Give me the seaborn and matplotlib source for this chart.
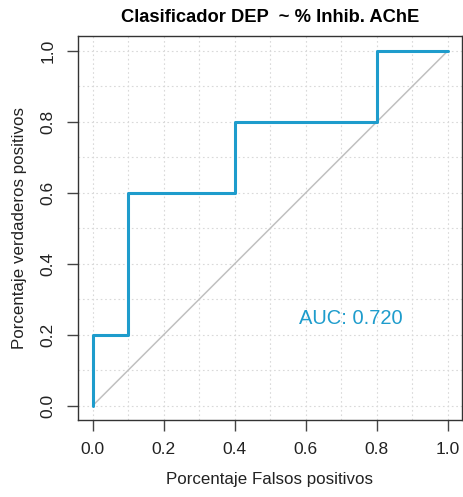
import matplotlib
matplotlib.use("Agg")
import matplotlib.pyplot as plt
import seaborn as sns
import pandas as pd
import numpy as np

fpr = [0.0, 0.0, 0.1, 0.1, 0.4, 0.4, 0.8, 0.8, 1.0]
tpr = [0.0, 0.2, 0.2, 0.6, 0.6, 0.8, 0.8, 1.0, 1.0]
auc_text = "AUC: 0.720"
title = "Clasificador DEP  ~ % Inhib. AChE"
xlabel = "Porcentaje Falsos positivos"
ylabel = "Porcentaje verdaderos positivos"
ticks = [0.0, 0.2, 0.4, 0.6, 0.8, 1.0]

sns.set_style("ticks")
plt.rcParams['font.family'] = ['Liberation Sans', 'DejaVu Sans']

fig = plt.figure(figsize=(4.63, 4.97), dpi=100)
ax = fig.add_axes([0.1685, 0.155, 0.829, 0.773])

grid = np.arange(0, 1.01, 0.1)
for g in grid:
    ax.axvline(g, color="#d9d9d9", lw=0.8, ls=(0, (1.5, 2.5)), zorder=0)
    ax.axhline(g, color="#d9d9d9", lw=0.8, ls=(0, (1.5, 2.5)), zorder=0)

ax.plot([0, 1], [0, 1], color="#c0c0c0", lw=1.1, zorder=1)
df = pd.DataFrame({"fpr": fpr, "tpr": tpr})
sns.lineplot(data=df, x="fpr", y="tpr", sort=False, estimator=None,
             color="#1e9ccc", lw=2.2, ax=ax, zorder=2)

ax.text(0.727, 0.247, auc_text, color="#1e9ccc", fontsize=14.5, ha="center", va="center")

ax.set_xlim(-0.041, 1.039)
ax.set_ylim(-0.04, 1.042)
ax.set_xticks(ticks)
ax.set_yticks(ticks)
ax.set_xticklabels([f"{t:.1f}" for t in ticks], fontsize=12.5, color="#222222")
ax.set_yticklabels([f"{t:.1f}" for t in ticks], fontsize=12.5, color="#222222",
                   rotation=90, va="center")
ax.tick_params(axis="both", direction="out", length=8, width=1, color="#444444",
               bottom=True, left=True, top=False, right=False)
ax.tick_params(axis="x", pad=8)
ax.tick_params(axis="y", pad=8)
ax.set_xlabel(xlabel, fontsize=12.2, color="#222222", labelpad=11)
ax.set_ylabel(ylabel, fontsize=12.2, color="#222222", labelpad=10)
ax.set_title(title, fontsize=13.2, fontweight="bold", pad=10, color="black")
for s in ax.spines.values():
    s.set_visible(True)
    s.set_color("#333333")
    s.set_linewidth(1.0)

fig.savefig("out.png", dpi=100)
